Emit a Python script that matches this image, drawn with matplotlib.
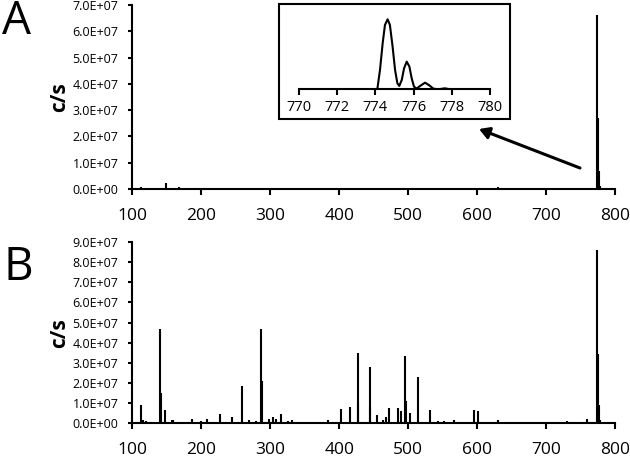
import matplotlib
matplotlib.use("Agg")
import matplotlib.pyplot as plt
from matplotlib.ticker import FuncFormatter, MultipleLocator
from matplotlib.patches import Rectangle, FancyArrowPatch

plt.rcParams['font.family'] = ['Open Sans', 'DejaVu Sans']

# ---------------- data ----------------
# Panel A: stick spectrum (m/z, c/s)
a_mz = [112, 120, 130, 140, 149, 168, 531, 612, 630, 774.6, 775.6, 776.6, 777.6, 790, 795]
a_int = [0.6e6, 0.5e6, 0.4e6, 0.5e6, 2.1e6, 0.6e6, 0.3e6, 0.3e6, 0.6e6,
         6.62e7, 2.7e7, 0.7e7, 1.0e6, 0.4e6, 0.5e6]

# Panel B: stick spectrum (m/z, c/s)
b_mz = [112, 116, 120, 128, 140, 141, 147, 157, 159, 175, 187, 199, 209, 227, 245,
        259, 269, 280, 287, 288, 298, 304, 309, 315, 326, 332, 344, 357, 384,
        402, 416, 427, 428, 444, 445, 455, 463, 468, 472, 486, 489, 496, 497, 503,
        514, 531, 543, 552, 567, 586, 595, 602, 614, 630, 637, 647, 685, 700,
        731, 746, 759, 774.6, 775.6, 776.6, 777.6, 794]
b_int = [9.2e6, 1.5e6, 1.0e6, 0.8e6, 4.68e7, 1.5e7, 6.8e6, 1.8e6, 1.5e6, 0.5e6, 2.2e6,
         1.2e6, 2.2e6, 4.8e6, 3.2e6,
         1.87e7, 1.6e6, 1.0e6, 4.7e7, 2.1e7, 2.0e6, 3.2e6, 2.2e6, 4.4e6, 1.0e6, 1.5e6,
         0.8e6, 0.8e6, 1.8e6,
         7.0e6, 8.0e6, 3.47e7, 1.0e7, 2.8e7, 0.8e7, 4.0e6, 1.5e6, 3.0e6, 7.5e6, 7.5e6,
         6.0e6, 3.33e7, 1.1e7, 5.3e6,
         2.3e7, 6.5e6, 1.0e6, 1.2e6, 1.6e6, 0.8e6, 6.5e6, 6.0e6, 0.8e6, 1.4e6, 0.8e6,
         0.6e6, 0.6e6, 0.4e6,
         1.2e6, 0.8e6, 2.2e6, 8.6e7, 3.45e7, 0.9e7, 1.5e6, 0.6e6]

# Inset: isotope profile (m/z, relative intensity)
inset_mz = [770.0, 774.10, 774.24, 774.38, 774.50, 774.64, 774.76, 774.90, 775.03,
            775.15, 775.25, 775.38, 775.50, 775.64, 775.78, 775.90, 776.02, 776.16,
            776.34, 776.60, 776.82, 777.03, 777.29, 777.64, 777.91, 780.0]
inset_rel = [0.0, 0.0, 0.276, 0.657, 0.919, 1.0, 0.919, 0.610, 0.276,
             0.086, 0.048, 0.133, 0.300, 0.395, 0.324, 0.157, 0.038, 0.010,
             0.048, 0.095, 0.057, 0.010, 0.0, 0.014, 0.0, 0.0]
inset_peak = 6.62e7

x_ticks = [100, 200, 300, 400, 500, 600, 700, 800]
inset_ticks = [770, 772, 774, 776, 778, 780]

# ---------------- figure ----------------
W, H = 630, 458
fig = plt.figure(figsize=(W / 100, H / 100), dpi=100)

def px_axes(left, right, top, bottom):
    return fig.add_axes([left / W, 1 - bottom / H, (right - left) / W, (bottom - top) / H])

fmt = FuncFormatter(lambda v, p: f"{v:.1E}")

def style_main(ax, ymax, ystep):
    ax.set_xlim(100, 800)
    ax.set_ylim(0, ymax)
    ax.set_xticks(x_ticks)
    ax.yaxis.set_major_locator(MultipleLocator(ystep))
    ax.yaxis.set_major_formatter(fmt)
    for s in ['top', 'right']:
        ax.spines[s].set_visible(False)
    for s in ['left', 'bottom']:
        ax.spines[s].set_linewidth(1.5)
    ax.tick_params(axis='x', direction='out', length=4, width=1.5, labelsize=12.5, pad=9.5)
    ax.tick_params(axis='y', direction='out', length=3, width=1.5, labelsize=9, pad=7)
    ax.set_ylabel('c/s', fontsize=15, fontweight='bold')
    ax.yaxis.set_label_coords(-0.128, 0.5)
    ax.patch.set_alpha(0)

axA = px_axes(132.3, 615, 5, 189)
axA.axhline(0, color='black', lw=1.0)
axA.vlines(a_mz, 0, a_int, color='black', lw=1.5)
style_main(axA, 7e7, 1e7)

axB = px_axes(132.3, 615, 242, 423.3)
axB.vlines(b_mz, 0, b_int, color='black', lw=1.5)
style_main(axB, 9e7, 1e7)

# inset
axI = px_axes(299, 490, 12, 89.3)
axI.plot(inset_mz, [r * inset_peak for r in inset_rel], color='black', lw=1.5)
axI.set_xlim(770, 780)
axI.set_ylim(0, inset_peak * (89.3 - 12) / 70)
axI.set_xticks(inset_ticks)
axI.set_yticks([])
for s in ['top', 'right', 'left']:
    axI.spines[s].set_visible(False)
axI.spines['bottom'].set_linewidth(1.5)
axI.tick_params(axis='x', direction='out', length=4, width=1.5, labelsize=10.5, pad=4)
axI.patch.set_alpha(0)

fig.patches.append(Rectangle((279 / W, 1 - 119 / H), (510 - 279) / W, (119 - 4) / H,
                             transform=fig.transFigure, fill=False, lw=1.5,
                             edgecolor='black'))

# arrow
fig.add_artist(FancyArrowPatch(
    (580 / W, 1 - 168 / H), (479 / W, 1 - 129 / H), transform=fig.transFigure,
    arrowstyle='-|>,head_length=6,head_width=3.5', lw=2.2, color='black',
    mutation_scale=1, shrinkA=0, shrinkB=0))

# panel letters
fig.text(16 / W, 1 - 22 / H, 'A', fontsize=33, ha='center', va='center')
fig.text(18 / W, 1 - 268 / H, 'B', fontsize=33, ha='center', va='center')

fig.savefig('out.png', dpi=100)
